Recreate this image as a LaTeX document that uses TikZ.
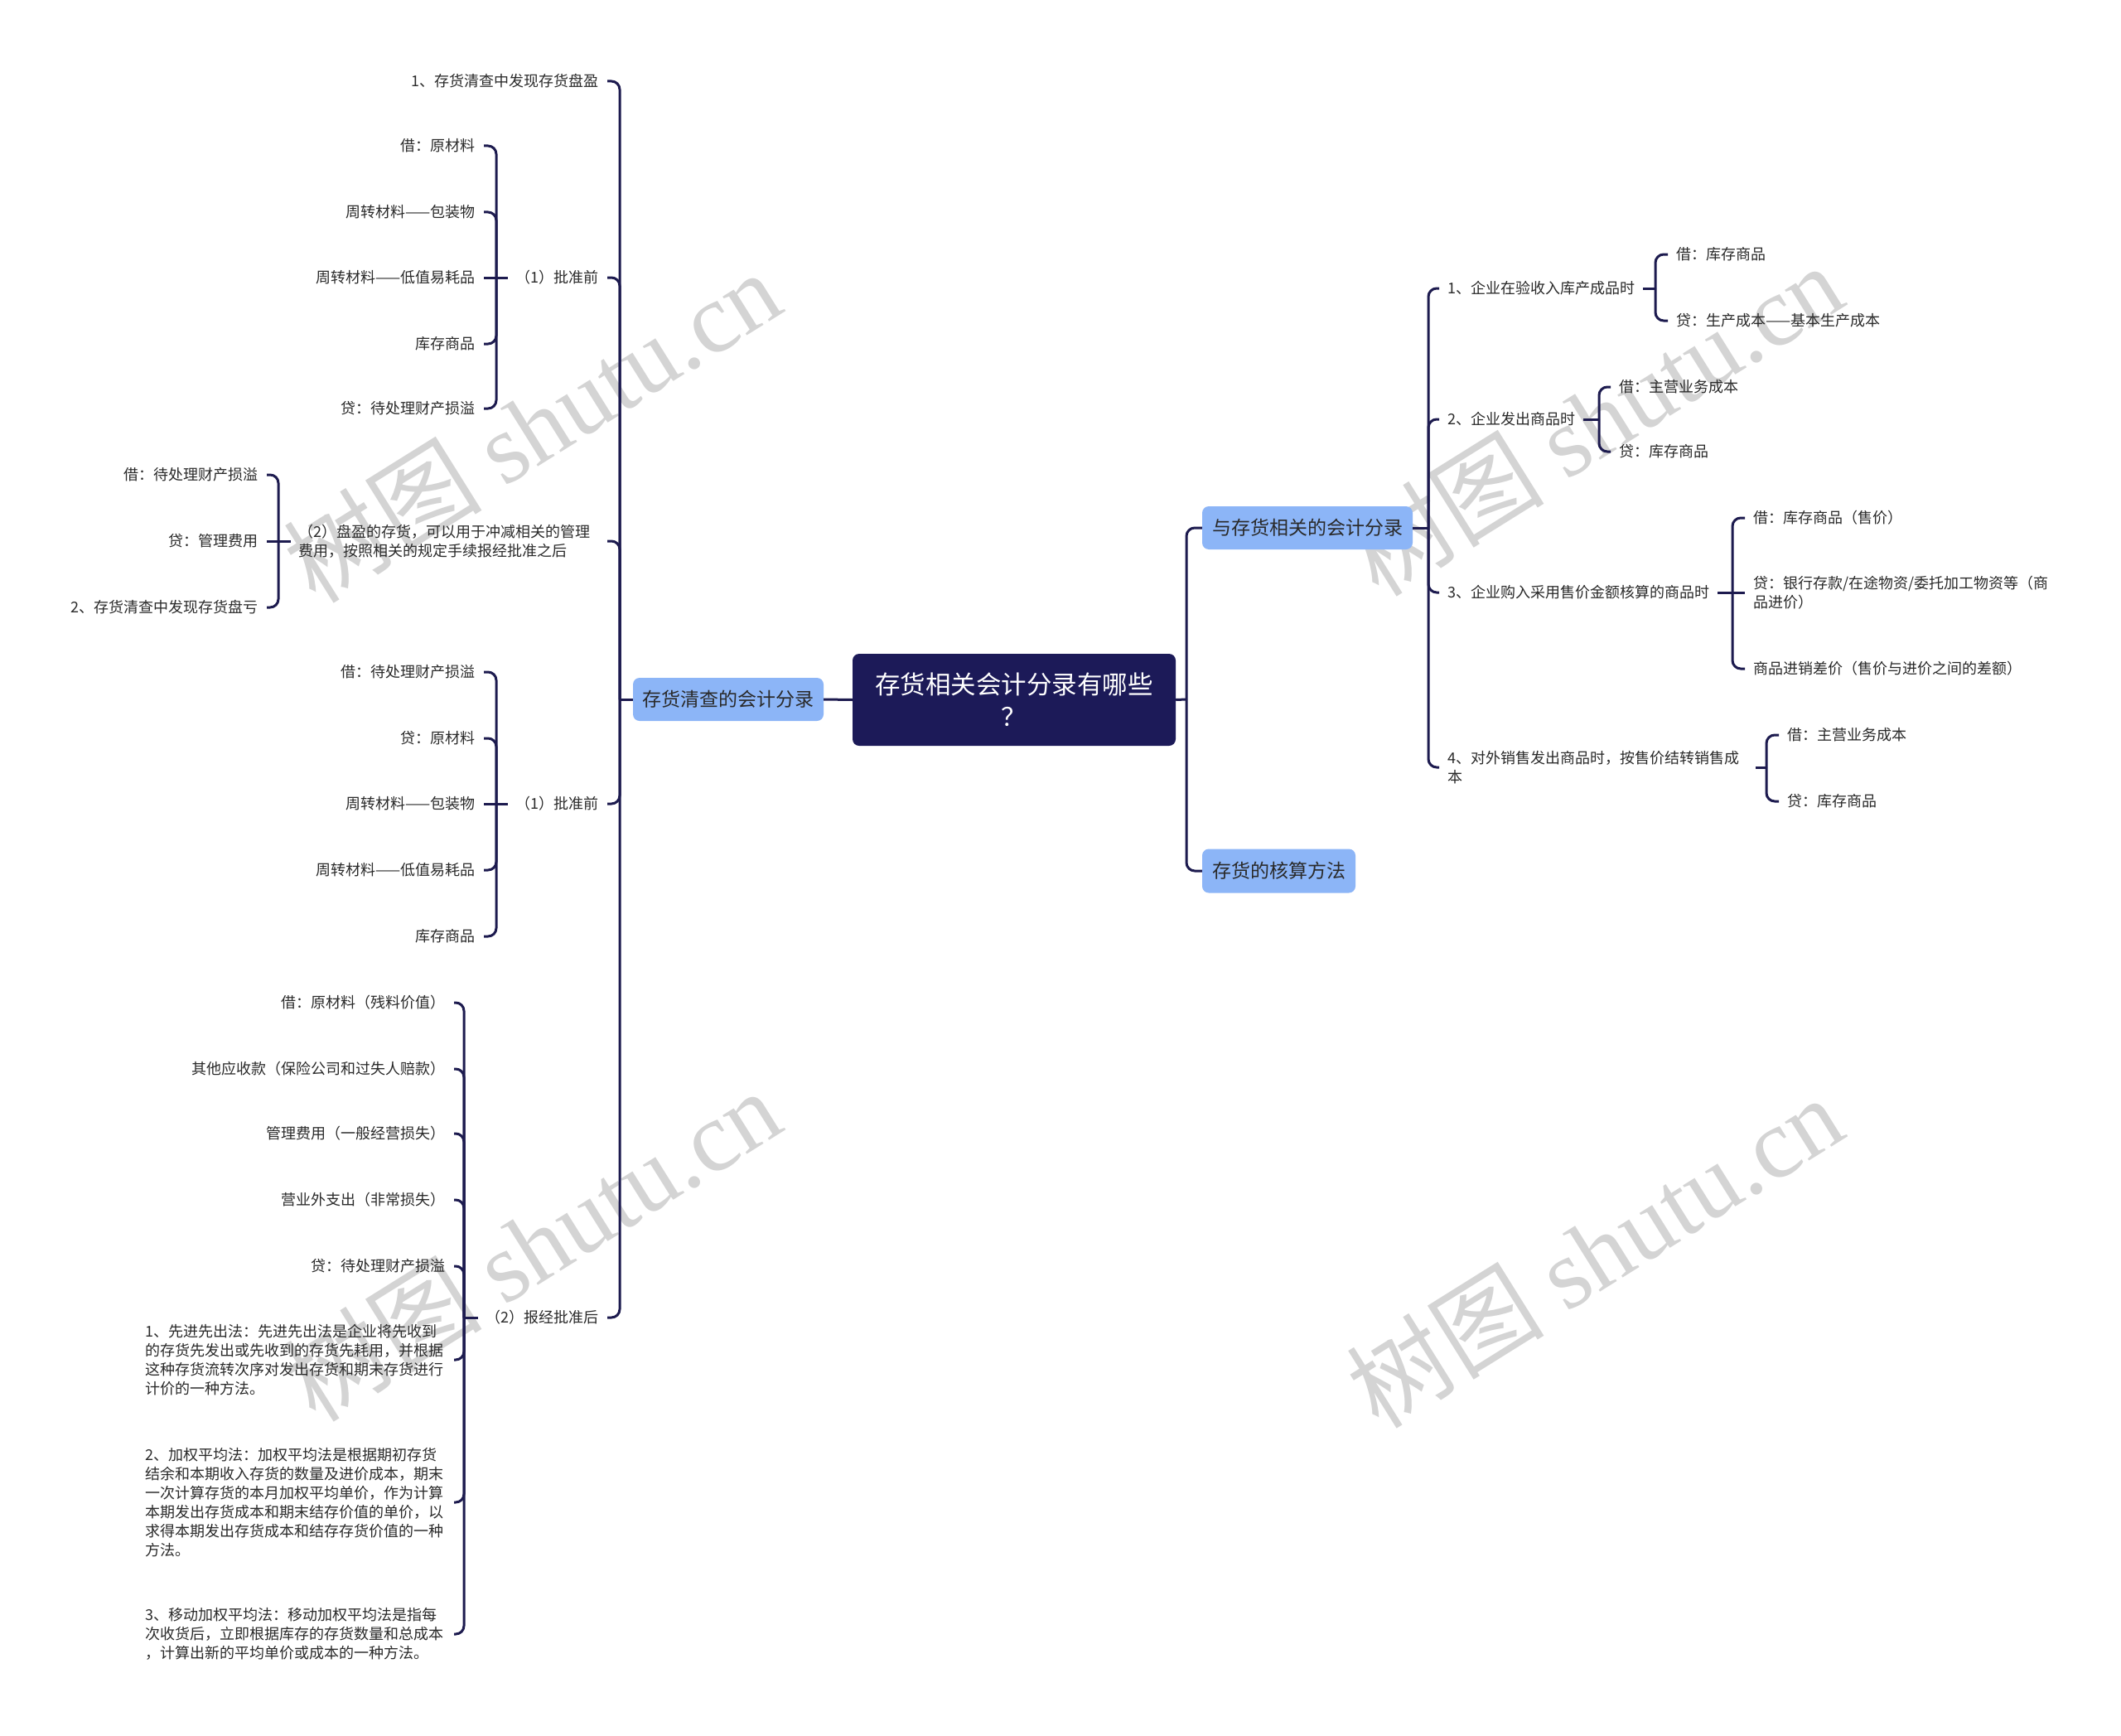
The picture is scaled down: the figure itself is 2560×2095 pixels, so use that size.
\documentclass[tikz,border=0pt]{standalone}
\usepackage{fontspec}
\setmainfont{Noto Sans CJK SC}
\newfontfamily\wmlatin{Liberation Serif}
\definecolor{navy}{HTML}{1C1A58}
\definecolor{lineC}{HTML}{1D1B4F}
\definecolor{blueC}{HTML}{8CB5F7}
\definecolor{txtC}{HTML}{2A2A2A}
\definecolor{wmC}{HTML}{D4D4D4}
\tikzset{
  conn/.style={draw=lineC, line width=3pt, rounded corners=10pt},
  leaf/.style={font=\fontsize{18}{23}\selectfont, text=txtC, inner xsep=10pt, inner ysep=2pt},
  leafL/.style={leaf, anchor=east},
  leafR/.style={leaf, anchor=west},
  multi/.style={text width=362pt, align=left},
  rootbox/.style={fill=navy, text=white, rounded corners=8pt, inner sep=0pt, minimum width=390pt, minimum height=111pt, align=center, font=\fontsize{30.5}{39}\selectfont},
  topic/.style={fill=blueC, text=txtC, rounded corners=8pt, inner sep=0pt, minimum height=52pt, font=\fontsize{23}{28}\selectfont},
  wm/.style={text=wmC, rotate=32, font=\fontsize{120}{126}\selectfont, inner sep=0pt}
}
\begin{document}
\begin{tikzpicture}[x=1pt,y=-1pt]
\useasboundingbox (0,0) rectangle (2560,2095);
\fill[white] (0,0) rectangle (2560,2095);

% watermarks
\node[wm] (wm1) at (642,514) {树图 {\wmlatin shutu.cn}};
\node[wm] (wm2) at (642,1502) {树图 {\wmlatin shutu.cn}};
\node[wm] (wm3) at (1924,506) {树图 {\wmlatin shutu.cn}};
\node[wm] (wm4) at (1924,1510) {树图 {\wmlatin shutu.cn}};

% main nodes
\node[rootbox] (root) at (1224,844.5) {存货相关会计分录有哪些\\？};
\node[topic, minimum width=230pt] (L) at (879,844) {存货清查的会计分录};
\node[topic, minimum width=254pt] (R1) at (1578,637) {与存货相关的会计分录};
\node[topic, minimum width=185pt, minimum height=53pt] (R2) at (1543.5,1051) {存货的核算方法};

% left children
\node[leafL] (c1) at (733,98) {1、存货清查中发现存货盘盈};
\node[leafL] (c2) at (733,335) {（1）批准前};
\node[leafL, multi] (c3) at (733,653) {（2）盘盈的存货，可以用于冲减相关的管理\\费用，按照相关的规定手续报经批准之后};
\node[leafL] (c4) at (733,970) {（1）批准前};
\node[leafL] (c5) at (733,1590) {（2）报经批准后};

\node[leafL] (c21) at (584,176) {借：原材料};
\node[leafL] (c22) at (584,256) {周转材料——包装物};
\node[leafL] (c23) at (584,335) {周转材料——低值易耗品};
\node[leafL] (c24) at (584,415) {库存商品};
\node[leafL] (c25) at (584,493) {贷：待处理财产损溢};

\node[leafL] (c31) at (322,573) {借：待处理财产损溢};
\node[leafL] (c32) at (322,653) {贷：管理费用};
\node[leafL] (c33) at (322,733) {2、存货清查中发现存货盘亏};

\node[leafL] (c41) at (584,811) {借：待处理财产损溢};
\node[leafL] (c42) at (584,891) {贷：原材料};
\node[leafL] (c43) at (584,970) {周转材料——包装物};
\node[leafL] (c44) at (584,1050) {周转材料——低值易耗品};
\node[leafL] (c45) at (584,1130) {库存商品};

\node[leafL] (c51) at (548,1210) {借：原材料（残料价值）};
\node[leafL] (c52) at (548,1290) {其他应收款（保险公司和过失人赔款）};
\node[leafL] (c53) at (548,1368) {管理费用（一般经营损失）};
\node[leafL] (c54) at (548,1448) {营业外支出（非常损失）};
\node[leafL] (c55) at (548,1528) {贷：待处理财产损溢};
\node[leafL, multi] (c56) at (548,1641) {1、先进先出法：先进先出法是企业将先收到\\的存货先发出或先收到的存货先耗用，并根据\\这种存货流转次序对发出存货和期末存货进行\\计价的一种方法。};
\node[leafL, multi] (c57) at (548,1813) {2、加权平均法：加权平均法是根据期初存货\\结余和本期收入存货的数量及进价成本，期末\\一次计算存货的本月加权平均单价，作为计算\\本期发出存货成本和期末结存价值的单价，以\\求得本期发出存货成本和结存存货价值的一种\\方法。};
\node[leafL, multi] (c58) at (548,1972) {3、移动加权平均法：移动加权平均法是指每\\次收货后，立即根据库存的存货数量和总成本\\，计算出新的平均单价或成本的一种方法。};

% right children
\node[leafR] (r1) at (1737,348) {1、企业在验收入库产成品时};
\node[leafR] (r2) at (1737,506) {2、企业发出商品时};
\node[leafR] (r3) at (1737,715) {3、企业购入采用售价金额核算的商品时};
\node[leafR, multi] (r4) at (1737,926) {4、对外销售发出商品时，按售价结转销售成\\本};

\node[leafR] (r11) at (2013,307) {借：库存商品};
\node[leafR] (r12) at (2013,387) {贷：生产成本——基本生产成本};
\node[leafR] (r21) at (1944,467) {借：主营业务成本};
\node[leafR] (r22) at (1944,545) {贷：库存商品};
\node[leafR] (r31) at (2106,625) {借：库存商品（售价）};
\node[leafR, multi] (r32) at (2106,715) {贷：银行存款/在途物资/委托加工物资等（商\\品进价）};
\node[leafR] (r33) at (2106,807) {商品进销差价（售价与进价之间的差额）};
\node[leafR] (r41) at (2147,887) {借：主营业务成本};
\node[leafR] (r42) at (2147,967) {贷：库存商品};

% junctions
\coordinate (jC) at (1432,844);
\coordinate (jL) at (748,844);
\coordinate (j2) at (599,335);
\coordinate (j3) at (336,653);
\coordinate (j4) at (599,970);
\coordinate (j5) at (560,1590);
\coordinate (jR) at (1724,637);
\coordinate (jr1) at (1998,348);
\coordinate (jr2) at (1930,506);
\coordinate (jr3) at (2091,715);
\coordinate (jr4) at (2132,926);

% connectors root
\draw[conn] (root.west) -- (L.east);
\draw[conn] (root.east) -- (jC);
\draw[conn] (jC) |- (R1.west);
\draw[conn] (jC) |- (R2.west);

% left level
\draw[conn] (L.west) -- (jL);
\foreach \c in {c1,c2,c3,c4,c5} \draw[conn] (jL) |- (\c.east);

\draw[conn] (c2.west) -- (j2);
\foreach \c in {c21,c22,c24,c25} \draw[conn] (j2) |- (\c.east);
\draw[conn] (j2) -- (c23.east);

\draw[conn] (c3.west) -- (j3);
\foreach \c in {c31,c33} \draw[conn] (j3) |- (\c.east);
\draw[conn] (j3) -- (c32.east);

\draw[conn] (c4.west) -- (j4);
\foreach \c in {c41,c42,c44,c45} \draw[conn] (j4) |- (\c.east);
\draw[conn] (j4) -- (c43.east);

\draw[conn] (c5.west) -- (j5);
\foreach \c in {c51,c52,c53,c54,c55,c56,c57,c58} \draw[conn] (j5) |- (\c.east);

% right level
\draw[conn] (R1.east) -- (jR);
\foreach \c in {r1,r2,r3,r4} \draw[conn] (jR) |- (\c.west);

\draw[conn] (r1.east) -- (jr1);
\foreach \c in {r11,r12} \draw[conn] (jr1) |- (\c.west);

\draw[conn] (r2.east) -- (jr2);
\foreach \c in {r21,r22} \draw[conn] (jr2) |- (\c.west);

\draw[conn] (r3.east) -- (jr3);
\foreach \c in {r31,r33} \draw[conn] (jr3) |- (\c.west);
\draw[conn] (jr3) -- (r32.west);

\draw[conn] (r4.east) -- (jr4);
\foreach \c in {r41,r42} \draw[conn] (jr4) |- (\c.west);
\end{tikzpicture}
\end{document}
